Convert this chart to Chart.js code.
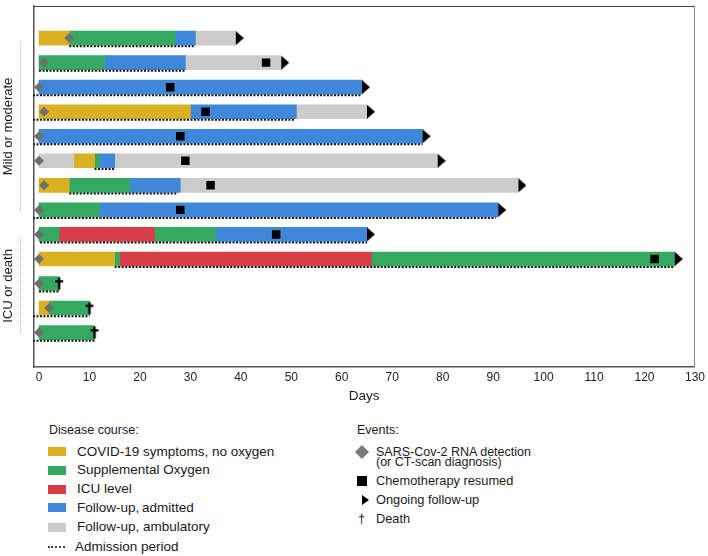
<!DOCTYPE html>
<html>
<head>
<meta charset="utf-8">
<script src="https://cdn.jsdelivr.net/npm/chart.js@4.4.1/dist/chart.umd.min.js"></script>
<style>
  body { margin: 0; background: #fff; font-family: "Liberation Sans", Arial, sans-serif; color: #1a1a1a; }
  #wrap { position: relative; width: 708px; height: 556px; overflow: hidden; }
  #c { position: absolute; left: 0; top: 0; }
  .t { position: absolute; white-space: nowrap; line-height: 16px; font-size: 13.5px; }
  .ev { font-size: 12.8px; }
  .sw { position: absolute; width: 18px; height: 9px; }
</style>
</head>
<body>
<div id="wrap">
  <canvas id="c" width="708" height="410"></canvas>
  <div id="legend"></div>
</div>
<script>
// Disease course segments per patient: [patient, start day, end day]
const symptoms = [[1, 0, 6], [4, 0, 30], [6, 7, 11], [7, 0, 6], [10, 0, 15], [12, 0, 2]];
const oxygen = [[1, 6, 27], [2, 0, 13], [6, 11, 12], [7, 6, 18], [8, 0, 12], [9, 0, 4], [9, 23, 35],
                [10, 15, 16], [10, 66, 126], [11, 0, 4], [12, 2, 10], [13, 0, 11]];
const icu = [[9, 4, 23], [10, 16, 66]];
const admitted = [[1, 27, 31], [2, 13, 29], [3, 0, 64], [4, 30, 51], [5, 0, 76], [6, 12, 15],
                  [7, 18, 28], [8, 12, 91], [9, 35, 65]];
const ambulatory = [[1, 31, 39], [2, 29, 48], [4, 51, 65], [6, 0, 7], [6, 15, 79], [7, 28, 95]];
// admission period (dotted line), patients 3,4,5,8,12,13 admitted before day 0
const admission = [[1, 6, 31], [2, 0, 29], [3, -1.2, 64], [4, -1.2, 50.5], [5, -1.2, 76], [6, 11, 15],
                   [7, 6, 27.5], [8, -1.2, 90.5], [9, 0.2, 65], [10, 15, 126], [11, 0, 4],
                   [12, -1.2, 10], [13, -1.2, 11]];
// events
const rnaDetection = [6, 1, 0, 1, 0, 0, 1, 0, 0, 0, 0, 2, 0]; // day, patients 1..13
const chemo = [[2, 45], [3, 26], [4, 33], [5, 28], [6, 29], [7, 34], [8, 28], [9, 47], [10, 122]];
const ongoing = [[1, 39], [2, 48], [3, 64], [4, 65], [5, 76], [6, 79], [7, 95], [8, 91], [9, 65], [10, 126]];
const deaths = [[11, 4], [12, 10], [13, 11]];
const xTicks = [0, 10, 20, 30, 40, 50, 60, 70, 80, 90, 100, 110, 120, 130];
const groups = [['Mild or moderate', 1, 8], ['ICU or death', 9, 13]];

const COL = {
  symptoms: '#dab023', oxygen: '#35a862', icu: '#d93d47',
  admitted: '#3f88d9', ambulatory: '#cccccc', rna: '#6f6f6f'
};
const FONT = '"Liberation Sans", Arial, sans-serif';
const ADM_OFFSET = 0.33;

// marker images
function makeTriangle() {
  const c = document.createElement('canvas');
  c.width = 16; c.height = 14;
  const g = c.getContext('2d');
  g.fillStyle = '#000';
  g.beginPath(); g.moveTo(8, 0); g.lineTo(16, 7); g.lineTo(8, 14); g.closePath(); g.fill();
  return c;
}
function makeDagger() {
  const c = document.createElement('canvas');
  c.width = 10; c.height = 13;
  const g = c.getContext('2d');
  g.fillStyle = '#000';
  g.fillRect(3.8, 0.5, 2.4, 12);
  g.fillRect(1, 3.2, 8, 2.2);
  return c;
}

const seg = (arr, color) => ({
  type: 'bar',
  data: arr.map(([p, s, e]) => ({ x: [s, e], y: p })),
  backgroundColor: color,
  borderWidth: 0,
  barThickness: 14,
  grouped: false,
  order: 3
});

const datasets = [
  seg(symptoms, COL.symptoms),
  seg(oxygen, COL.oxygen),
  seg(icu, COL.icu),
  seg(admitted, COL.admitted),
  seg(ambulatory, COL.ambulatory)
];

admission.forEach(([p, s, e]) => {
  datasets.push({
    type: 'line',
    data: [{ x: s, y: p + ADM_OFFSET }, { x: e, y: p + ADM_OFFSET }],
    borderColor: '#111',
    borderWidth: 2,
    borderDash: [2, 1.5],
    pointRadius: 0,
    order: 2
  });
});

datasets.push({
  type: 'scatter',
  data: rnaDetection.map((d, i) => ({ x: d, y: i + 1 })),
  pointStyle: 'rectRot', pointRadius: 5,
  backgroundColor: COL.rna, borderWidth: 0, order: 1
});
datasets.push({
  type: 'scatter',
  data: chemo.map(([p, d]) => ({ x: d, y: p })),
  pointStyle: 'rect', pointRadius: 6,
  backgroundColor: '#000', borderWidth: 0, order: 1
});
datasets.push({
  type: 'scatter',
  data: ongoing.map(([p, d]) => ({ x: d, y: p })),
  pointStyle: makeTriangle(), order: 1
});
datasets.push({
  type: 'scatter',
  data: deaths.map(([p, d]) => ({ x: d, y: p })),
  pointStyle: makeDagger(), order: 0
});

const frame = {
  id: 'frame',
  afterDraw(chart) {
    const { ctx, chartArea: a, scales: { y } } = chart;
    ctx.save();
    ctx.lineWidth = 1;
    ctx.strokeStyle = '#444';
    ctx.beginPath(); ctx.moveTo(a.left, a.top + 0.5); ctx.lineTo(a.right, a.top + 0.5); ctx.stroke();
    ctx.strokeStyle = '#8a8a8a';
    ctx.beginPath(); ctx.moveTo(a.right - 0.5, a.top); ctx.lineTo(a.right - 0.5, a.bottom); ctx.stroke();

    groups.forEach(([label, first, last]) => {
      const y0 = y.getPixelForValue(first + 0.15);
      const y1 = y.getPixelForValue(last + 0.05);
      ctx.strokeStyle = '#b0b0b0';
      ctx.setLineDash([1, 1]);
      ctx.beginPath(); ctx.moveTo(20.5, y0); ctx.lineTo(20.5, y1); ctx.stroke();
      ctx.setLineDash([]);
      ctx.save();
      ctx.translate(8.5, (y0 + y1) / 2);
      ctx.rotate(-Math.PI / 2);
      ctx.fillStyle = '#1a1a1a';
      ctx.font = '13px ' + FONT;
      ctx.textAlign = 'center';
      ctx.textBaseline = 'middle';
      ctx.fillText(label, 0, 0);
      ctx.restore();
    });
    ctx.restore();
  }
};

new Chart(document.getElementById('c'), {
  type: 'bar',
  data: { datasets },
  options: {
    responsive: false,
    animation: false,
    events: [],
    indexAxis: 'y',
    layout: { padding: { top: 2, right: 11, left: 0, bottom: 0 } },
    plugins: { legend: { display: false }, tooltip: { enabled: false } },
    scales: {
      x: {
        type: 'linear',
        min: -1.13,
        max: 130,
        afterBuildTicks: (s) => { s.ticks = xTicks.map(v => ({ value: v })); },
        afterFit: (s) => { s.height = 43; },
        grid: { display: false, drawTicks: false },
        border: { color: '#555', width: 1.5 },
        ticks: { color: '#222', font: { size: 12, family: FONT }, padding: 3, autoSkip: false, maxRotation: 0 },
        title: { display: true, text: 'Days', color: '#1a1a1a', font: { size: 13.5, family: FONT }, padding: { top: 2, bottom: 6 } }
      },
      y: {
        type: 'linear',
        reverse: true,
        min: 0.612,
        max: 13.483,
        afterFit: (s) => { s.width = 33.3; },
        grid: { display: false, drawTicks: false },
        border: { color: '#555', width: 1.5 },
        ticks: { display: false }
      }
    }
  },
  plugins: [frame]
});

// legend
const legend = document.getElementById('legend');
const html = [];
html.push('<div class="t" style="left:49px;top:422px;font-size:12.5px">Disease course:</div>');
[['COVID-19 symptoms, no oxygen', COL.symptoms, 451.7],
 ['Supplemental Oxygen', COL.oxygen, 470],
 ['ICU level', COL.icu, 489],
 ['Follow-up,\u2009admitted', COL.admitted, 507.7],
 ['Follow-up, ambulatory', COL.ambulatory, 527.3]].forEach(([txt, c, cy]) => {
  html.push(`<div class="sw" style="left:48px;top:${cy - 4.5}px;background:${c}"></div>`);
  html.push(`<div class="t" style="left:77px;top:${cy - 8}px">${txt}</div>`);
});
html.push('<div style="position:absolute;left:48px;top:546px;width:17px;border-top:2px dotted #444"></div>');
html.push('<div class="t" style="left:75px;top:538.7px">Admission period</div>');

html.push('<div class="t" style="left:357px;top:422px;font-size:12.5px">Events:</div>');
html.push(`<div style="position:absolute;left:357px;top:447.3px;width:9.9px;height:9.9px;background:#7a7a7a;transform:rotate(45deg)"></div>`);
html.push('<div class="t" style="left:376px;top:446.6px;font-size:12.5px;line-height:10.7px">SARS-Cov-2 RNA detection<br>(or CT-scan diagnosis)</div>');
html.push('<div style="position:absolute;left:357px;top:476px;width:10px;height:10px;background:#000"></div>');
html.push('<div class="t ev" style="left:376px;top:473px">Chemotherapy resumed</div>');
html.push('<div style="position:absolute;left:362.3px;top:495px;width:0;height:0;border-left:7px solid #000;border-top:5.5px solid transparent;border-bottom:5.5px solid transparent"></div>');
html.push('<div class="t ev" style="left:376px;top:492px">Ongoing follow-up</div>');
html.push('<div class="t ev" style="left:358px;top:511px">\u2020</div>');
html.push('<div class="t ev" style="left:376px;top:511px">Death</div>');
legend.innerHTML = html.join('');
</script>
</body>
</html>
